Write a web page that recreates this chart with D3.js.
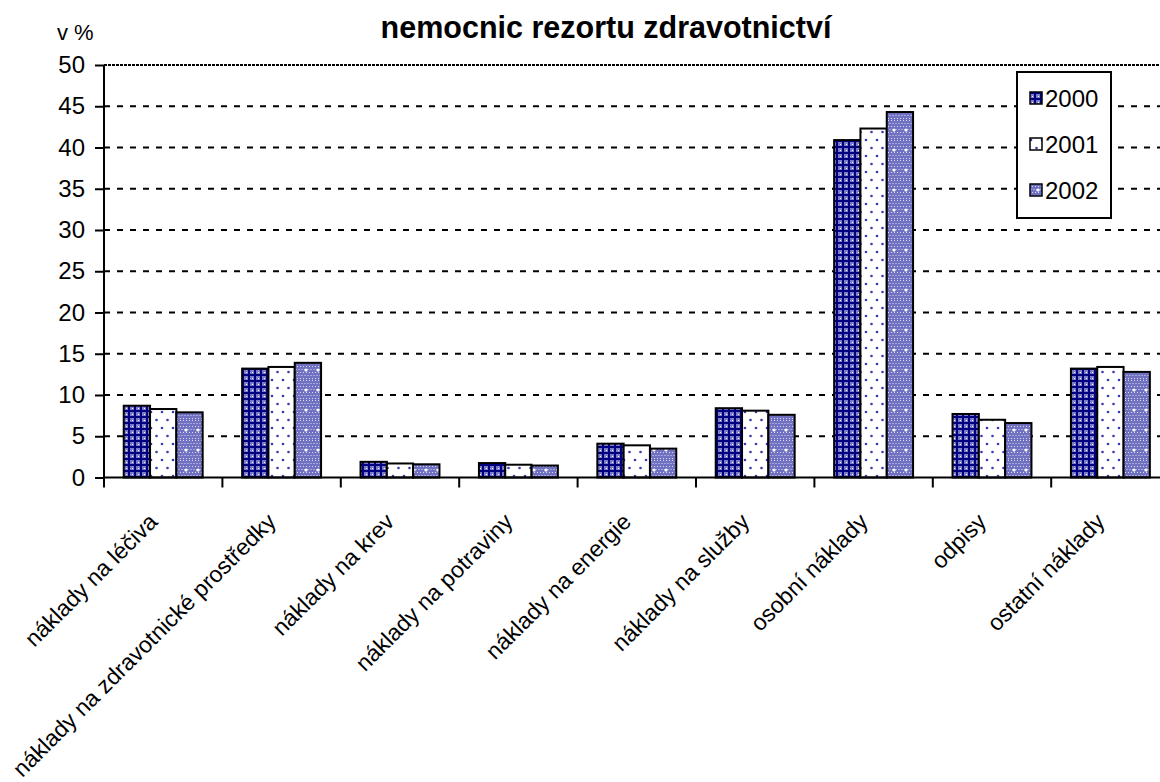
<!DOCTYPE html>
<html><head><meta charset="utf-8">
<script src="https://cdn.jsdelivr.net/npm/d3@7"></script>
<style>
body{margin:0;background:#fff;}
svg{display:block;font-family:Arial,"Liberation Sans",sans-serif;}
</style></head>
<body><svg id="c" width="1160" height="782"></svg>
<script>
const categories = ["náklady na léčiva","náklady na zdravotnické prostředky","náklady na krev","náklady na potraviny","náklady na energie","náklady na služby","osobní náklady","odpisy","ostatní náklady"];
const years = ["2000","2001","2002"];
const values2000 = [8.7, 13.2, 1.9, 1.75, 4.1, 8.4, 40.9, 7.7, 13.2];
const values2001 = [8.3, 13.4, 1.7, 1.55, 3.9, 8.1, 42.3, 7.0, 13.4];
const values2002 = [7.9, 13.9, 1.6, 1.45, 3.5, 7.6, 44.3, 6.6, 12.8];
const yTicks = [0,5,10,15,20,25,30,35,40,45,50];
const title = "nemocnic rezortu zdravotnictví";
const unitLabel = "v %";

const series = [values2000, values2001, values2002];
const svg = d3.select("#c");
const pLeft = 104, step = 118.4, pTop = 65, pBottom = 477.5;
const x = d3.scaleBand().domain(categories).range([pLeft, pLeft + step*categories.length]).padding(0);
const xi = d3.scaleBand().domain(years).range([0, x.bandwidth()]).paddingInner(0).paddingOuter(0.75);
const y = d3.scaleLinear().domain([0,50]).range([pBottom, pTop]);

// patterns
const defs = svg.append("defs");
const p0 = defs.append("pattern").attr("id","p2000").attr("patternUnits","userSpaceOnUse").attr("width",6).attr("height",6);
p0.append("rect").attr("width",6).attr("height",6).attr("fill","#7c7cc6");
p0.append("rect").attr("x",2).attr("y",0).attr("width",2).attr("height",6).attr("fill","#000080");
p0.append("rect").attr("x",0).attr("y",2).attr("width",6).attr("height",2).attr("fill","#000080");
p0.append("rect").attr("x",0).attr("y",0).attr("width",1).attr("height",1).attr("fill","#ffffff");
const p1 = defs.append("pattern").attr("id","p2001").attr("patternUnits","userSpaceOnUse").attr("width",11).attr("height",16);
p1.append("rect").attr("width",11).attr("height",16).attr("fill","#ffffff");
p1.append("circle").attr("cx",2.5).attr("cy",4).attr("r",1.3).attr("fill","#3a3aa8");
p1.append("circle").attr("cx",8).attr("cy",12).attr("r",1.3).attr("fill","#3a3aa8");
const p2 = defs.append("pattern").attr("id","p2002").attr("patternUnits","userSpaceOnUse").attr("width",12).attr("height",20);
p2.append("rect").attr("width",12).attr("height",20).attr("fill","#7171c2");
for (let i=0;i<4;i++) for (let j=0;j<7;j++) {
  p2.append("rect").attr("x",i*3+ (j%2)*1.5).attr("y",j*3).attr("width",1).attr("height",1).attr("fill","#dcdcf4");
}
p2.append("circle").attr("cx",6).attr("cy",10).attr("r",1.6).attr("fill","#ffffff");
const fills = {"2000":"url(#p2000)","2001":"url(#p2001)","2002":"url(#p2002)"};

// gridlines
svg.append("g").selectAll("line").data(yTicks.filter(d=>d>0)).join("line")
  .attr("x1", pLeft).attr("x2", 1160)
  .attr("y1", d=>y(d)).attr("y2", d=>y(d))
  .attr("stroke","#000").attr("stroke-width",2)
  .attr("stroke-dasharray", d=> d===50 ? "3,1" : "6,7");

// bars
const g = svg.append("g");
categories.forEach((c,ci)=>{
  years.forEach((yr,si)=>{
    const v = series[si][ci];
    g.append("rect")
      .attr("x", x(c)+xi(yr)).attr("y", y(v))
      .attr("width", xi.bandwidth()).attr("height", y(0)-y(v))
      .attr("fill", fills[yr]).attr("stroke","#000").attr("stroke-width",2);
  });
});

// y axis
const yAxis = d3.axisLeft(y).tickValues(yTicks).tickSize(9).tickPadding(10).tickSizeOuter(0);
const ya = svg.append("g").attr("transform",`translate(${pLeft},0)`).call(yAxis);
ya.select(".domain").attr("stroke-width",2).attr("d",`M0,${pTop}V${pBottom+10}`);
ya.selectAll(".tick line").attr("stroke-width",2);
ya.selectAll("text").attr("font-size",24).attr("font-family","Arial, 'Liberation Sans', sans-serif").attr("fill","#000");

// x axis
const xa = svg.append("g").attr("transform",`translate(0,${pBottom})`);
xa.append("line").attr("x1",pLeft).attr("x2",1160).attr("y1",0).attr("y2",0).attr("stroke","#000").attr("stroke-width",2);
xa.selectAll("line.tk").data(categories.slice(1)).join("line").attr("class","tk")
  .attr("x1",d=>x(d)).attr("x2",d=>x(d)).attr("y1",0).attr("y2",10).attr("stroke","#000").attr("stroke-width",2);
xa.selectAll("text.lb").data(categories).join("text").attr("class","lb")
  .attr("transform", d=>`translate(${x(d)+x.bandwidth()/2-10},${40}) rotate(-45)`)
  .attr("text-anchor","end").attr("dy","0.35em")
  .attr("font-size",23).attr("fill","#000").text(d=>d);

// title
svg.append("text").attr("x",606).attr("y",38).attr("text-anchor","middle")
  .attr("font-size",30.5).attr("font-weight","bold").text(title);
svg.append("text").attr("x",57).attr("y",40).attr("font-size",22).text(unitLabel);

// legend
const lg = svg.append("g");
lg.append("rect").attr("x",1017).attr("y",72).attr("width",94).attr("height",146)
  .attr("fill","#fff").attr("stroke","#000").attr("stroke-width",2);
years.forEach((yr,i)=>{
  const cy = 98 + i*46;
  lg.append("rect").attr("x",1030).attr("y",cy-6).attr("width",12).attr("height",12)
    .attr("fill",fills[yr]).attr("stroke","#000").attr("stroke-width",1.5);
  lg.append("text").attr("x",1045).attr("y",cy).attr("dy","0.36em").attr("font-size",24).text(yr);
});
</script></body></html>
